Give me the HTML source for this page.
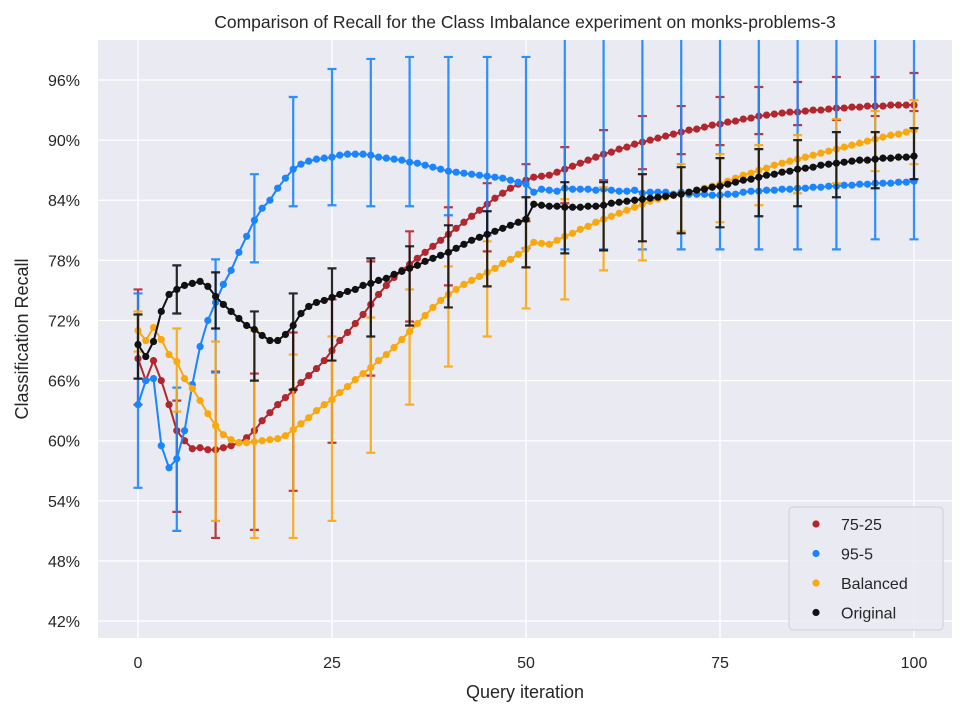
<!DOCTYPE html>
<html><head><meta charset="utf-8">
<style>
body{margin:0;background:#fff;font-family:"Liberation Sans",sans-serif;}
svg text{font-family:"Liberation Sans",sans-serif;fill:#262626;}
</style></head>
<body>
<svg id="chart" width="966" height="716" xmlns="http://www.w3.org/2000/svg">
<text x="525" y="28" font-size="17.5" text-anchor="middle">Comparison of Recall for the Class Imbalance experiment on monks-problems-3</text>
<rect x="98" y="40" width="854" height="598" fill="#eaeaf2"/>
<g id="grid"></g>
<g id="series"></g>
<text x="525" y="698" font-size="18" text-anchor="middle">Query iteration</text>
<text transform="translate(28,339) rotate(-90)" font-size="18" text-anchor="middle">Classification Recall</text>
<g>
<rect x="789" y="507" width="154" height="123" rx="4" fill="#eaeaf2" stroke="#d0d0d0" fill-opacity="0.8"/>
</g>
<g id="legend-items"></g>
</svg>
<script>
const iters=[];for(let i=0;i<=100;i++)iters.push(i);
const errIters=[0,5,10,15,20,25,30,35,40,45,50,55,60,65,70,75,80,85,90,95,100];
const yTicks=[42,48,54,60,66,72,78,84,90,96];
const xTicks=[0,25,50,75,100];
const seriesNames=["75-25","95-5","Balanced","Original"];
const red=[68.2,66,68,66,63.6,61,60,59.2,59.3,59.1,59.1,59.3,59.5,59.8,60.3,61,62,62.8,63.6,64.3,65,65.8,66.5,67.2,68,69,70,70.8,71.7,72.6,73.6,74.6,75.5,76.3,77,77.6,78.2,78.8,79.4,80,80.6,81.2,81.8,82.4,83,83.6,84.2,84.7,85.2,85.6,86,86.3,86.4,86.5,86.8,87.1,87.4,87.7,88,88.3,88.6,88.8,89.1,89.3,89.6,89.8,90,90.2,90.4,90.6,90.8,91,91.1,91.3,91.5,91.6,91.8,91.9,92.1,92.2,92.4,92.5,92.6,92.7,92.8,92.8,92.9,93,93,93.1,93.2,93.2,93.3,93.3,93.4,93.4,93.4,93.5,93.5,93.5,93.5];
const blue=[63.6,66,66.2,59.5,57.3,58.2,61,65.6,69.4,72,73.8,75.6,77,78.8,80.4,82,83.2,84,85.2,86.2,87.1,87.6,87.9,88.1,88.2,88.3,88.5,88.6,88.6,88.6,88.5,88.3,88.2,88.1,88,87.8,87.7,87.5,87.3,87.1,86.9,86.8,86.7,86.6,86.5,86.4,86.3,86.2,86,85.8,85.6,84.8,85.1,85,84.9,85.2,85.1,85.1,85.1,85,85.1,85,84.9,84.9,85,84.7,84.8,84.8,84.8,84.6,84.8,84.6,84.6,84.6,84.5,84.5,84.6,84.6,84.8,84.9,84.9,85,85,85.1,85.1,85.2,85.2,85.3,85.3,85.4,85.4,85.5,85.5,85.6,85.6,85.7,85.7,85.7,85.8,85.8,85.9];
const orange=[71,70,71.3,70.1,68.6,67.9,66.2,65.2,64,62.7,61.5,60.6,60.1,59.8,59.8,59.9,60,60.1,60.2,60.5,61.1,61.7,62.3,63,63.6,64.1,64.8,65.4,66.1,66.7,67.3,68,68.6,69.3,70.1,70.9,71.7,72.5,73.3,74,74.6,75.1,75.6,76,76.4,76.8,77.2,77.7,78.1,78.6,79.1,79.8,79.7,79.6,80,80.4,80.7,81.1,81.4,81.8,82.1,82.4,82.7,83,83.3,83.6,83.9,84.1,84.3,84.5,84.6,84.8,85,85.2,85.4,85.6,85.9,86.2,86.5,86.7,87,87.2,87.5,87.7,87.9,88.1,88.3,88.5,88.7,88.9,89.1,89.3,89.5,89.7,89.9,90.1,90.3,90.5,90.6,90.8,91];
const black=[69.6,68.4,69.9,72.9,74.6,75.1,75.5,75.7,75.9,75.4,74.4,73.6,72.9,72.2,71.5,71.1,70.5,70,70,70.6,71.5,72.7,73.4,73.8,74,74.3,74.6,74.9,75.1,75.5,75.7,76,76.2,76.6,76.9,77.2,77.5,77.9,78.2,78.5,78.8,79.2,79.6,80,80.3,80.6,80.9,81.2,81.5,81.8,82.1,83.6,83.5,83.4,83.4,83.3,83.3,83.3,83.4,83.4,83.5,83.7,83.8,83.9,84,84.1,84.2,84.3,84.4,84.5,84.6,84.8,85,85.1,85.3,85.4,85.6,85.8,86,86.1,86.3,86.5,86.6,86.8,86.9,87.1,87.2,87.3,87.5,87.6,87.7,87.8,87.9,88,88,88.1,88.2,88.2,88.3,88.3,88.4];
const redLo=[63.6,52.9,50.3,51.1,55,59.8,66.5,71.9,75.5,78.9,81.9,83.7,86,87.1,88.6,89.5,90.6,91.5,92,92.4,92.9];
const redHi=[75.1,64,66.9,66.7,70.8,74.1,77.9,80.9,83.3,85.7,87.6,89.3,91,92.4,93.4,94.3,95.3,95.8,96.3,96.3,96.7];
const blueLo=[55.3,51,66.8,77.8,83.4,83.5,83.4,83.4,82.5,80.5,79.2,79.1,79.1,79.1,79.1,79.1,79.1,79.1,79.1,80.1,80.1];
const blueHi=[74.7,65.3,78.1,86.6,94.3,97.1,98.1,98.3,98.3,98.3,98.3,101,101,101,101,101,101,101,101,101,101];
const orangeLo=[68.9,62.9,52,50.3,50.3,52,58.8,63.6,67.4,70.4,73.2,74.1,77,78,80.9,81.8,83.5,84.7,85.7,86.9,87.6];
const orangeHi=[72.9,71.2,69.9,71,68.6,70.4,72.3,75.1,77.4,79.9,82.2,84.1,85.3,86.6,87.6,88.6,89.5,90.5,92.1,92.9,94];
const blackLo=[66.2,72.7,71.2,66,65.1,68,70.4,71.5,73.3,75.4,77.3,78.7,79,79.9,80.7,81.3,82.4,83.4,84.3,85.2,86.1];
const blackHi=[72.6,77.5,76.8,72.9,74.7,77.2,78.2,79.4,81.5,82.9,84.3,85.8,85.8,86.6,87.3,88.2,89.1,90,90.8,90.8,91.2];

const NS="http://www.w3.org/2000/svg";
const X0=98,X1=952,Y0=40,Y1=638;
function xs(v){return 138+(v-0)*(914-138)/100;}
function ys(v){return 80+(96-v)*10.02;}
function mk(tag,attrs,parent){const e=document.createElementNS(NS,tag);for(const k in attrs)e.setAttribute(k,attrs[k]);parent.appendChild(e);return e;}
const grid=document.getElementById('grid');
yTicks.forEach(t=>{
  const l=mk('line',{x1:X0,x2:X1,y1:ys(t),y2:ys(t),stroke:'#fff','stroke-width':1.3},grid);
  
  
  const tx=mk('text',{x:80,y:ys(t)+6,'font-size':16,'text-anchor':'end'},grid);
  tx.textContent=t+'%';
  
  
});
xTicks.forEach(t=>{
  const l=mk('line',{x1:xs(t),x2:xs(t),y1:Y0,y2:Y1,stroke:'#fff','stroke-width':1.3},grid);
  
  
  const tx=mk('text',{x:xs(t),y:668,'font-size':16,'text-anchor':'middle'},grid);
  tx.textContent=t;
  
  
});
const defs=mk('defs',{},document.getElementById('chart'));
const cp=mk('clipPath',{id:'clip'},defs);
mk('rect',{x:X0,y:Y0,width:X1-X0,height:Y1-Y0},cp);
const sg=document.getElementById('series');
sg.setAttribute('clip-path','url(#clip)');
const cols=['#b2272d','#1a85ff','#f9a80e','#111111'];
const vals=[red,blue,orange,black];
const los=[redLo,blueLo,orangeLo,blackLo];
const his=[redHi,blueHi,orangeHi,blackHi];
const keys=['red-75-25','blue-95-5','orange-balanced','black-original'];
for(let s=0;s<4;s++){
  const g=mk('g',{},sg);
  
  
  const d=vals[s].map((v,i)=>(i?'L':'M')+xs(iters[i]).toFixed(1)+','+ys(v).toFixed(1)).join('');
  const p=mk('path',{d:d,fill:'none',stroke:cols[s],'stroke-width':2},g);
  
  
  vals[s].forEach((v,i)=>{
    const c=mk('circle',{cx:xs(iters[i]),cy:ys(v),r:3.6,fill:cols[s]},g);
    
    
  });
  errIters.forEach((it,j)=>{
    const x=xs(it),a=ys(los[s][j]),b=ys(his[s][j]);
    const eb=mk('path',{d:`M${x},${a}L${x},${b}M${x-4.5},${a}L${x+4.5},${a}M${x-4.5},${b}L${x+4.5},${b}`,stroke:cols[s],'stroke-width':2.2,fill:'none','stroke-opacity':0.9},g);
    
    
  });
}
const lg=document.getElementById('legend-items');
seriesNames.forEach((n,i)=>{
  const y=524+i*29.5;
  const g=mk('g',{},lg);
  
  
  mk('circle',{cx:816,cy:y,r:3.6,fill:cols[i]},g);
  const t=mk('text',{x:841,y:y+6,'font-size':16},g);
  t.textContent=n;
});
</script>
</body></html>
